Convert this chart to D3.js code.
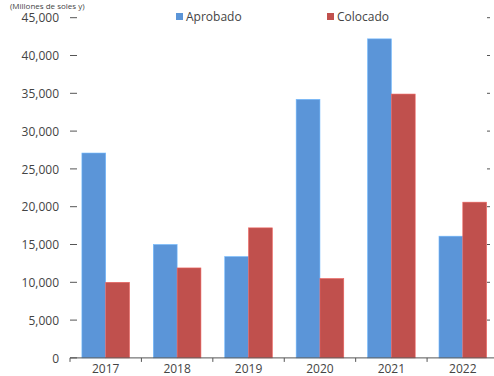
<!DOCTYPE html>
<html>
<head>
<meta charset="utf-8">
<script src="https://cdn.jsdelivr.net/npm/d3@7"></script>
<style>
  body { margin: 0; background: #fff; }
  svg text { font-family: "Open Sans", sans-serif; fill: #444; }
</style>
</head>
<body>
<svg id="chart"></svg>
<script>
// values
const years = ['2017', '2018', '2019', '2020', '2021', '2022'];
const aprobado = [27100, 15000, 13400, 34200, 42200, 16100];
const colocado = [10000, 11900, 17200, 10500, 34900, 20600];
const seriesNames = ['Aprobado', 'Colocado'];
const yTicks = [0, 5000, 10000, 15000, 20000, 25000, 30000, 35000, 40000, 45000];

const colors = {Aprobado: '#5b95d8', Colocado: '#c0504d'};

const width = 494, height = 376;
const margin = {top: 17.7, right: -4.5, bottom: 18.1, left: 70};

const svg = d3.select('#chart')
    .attr('width', width)
    .attr('height', height);

const data = years.map((y, i) => ({year: y, Aprobado: aprobado[i], Colocado: colocado[i]}));

const xScale = d3.scaleBand()
    .domain(years)
    .range([margin.left, width - margin.right]);

const xInner = d3.scaleBand()
    .domain(seriesNames)
    .range([0, xScale.bandwidth()])
    .paddingInner(0)
    .paddingOuter(0.5);

const yScale = d3.scaleLinear()
    .domain([0, 45000])
    .range([height - margin.bottom, margin.top]);

// unit label at the top edge
svg.append('text')
    .attr('x', 10)
    .attr('y', 8.5)
    .style('font-size', '8px')
    .text('(Millones de soles y)');

// y axis (labels only, no line)
const yAxis = d3.axisLeft(yScale)
    .tickValues(yTicks)
    .tickSize(0)
    .tickPadding(0)
    .tickFormat(d3.format(','));

const yAxisGroup = svg.append('g')
    .attr('transform', `translate(${margin.left - 11}, 0)`)
    .call(yAxis);
yAxisGroup.select('.domain').remove();
yAxisGroup.selectAll('text').style('font-size', '12px').attr('dy', '0.35em');

svg.append('g')
    .selectAll('line')
    .data(yTicks)
    .join('line')
    .attr('x1', margin.left)
    .attr('x2', margin.left + 7)
    .attr('y1', d => yScale(d))
    .attr('y2', d => yScale(d))
    .attr('stroke', '#555')
    .attr('stroke-width', 1);

// small ticks on the right side
svg.append('g')
    .selectAll('line')
    .data(yTicks.slice(1))
    .join('line')
    .attr('x1', 487)
    .attr('x2', 490)
    .attr('y1', d => yScale(d))
    .attr('y2', d => yScale(d))
    .attr('stroke', '#555')
    .attr('stroke-width', 1);

// bars
const groups = svg.append('g')
    .selectAll('g')
    .data(data)
    .join('g')
    .attr('transform', d => `translate(${xScale(d.year)}, 0)`);

groups.selectAll('rect')
    .data(d => seriesNames.map(k => ({key: k, value: d[k]})))
    .join('rect')
    .attr('x', d => xInner(d.key))
    .attr('y', d => yScale(d.value))
    .attr('width', xInner.bandwidth())
    .attr('height', d => yScale(0) - yScale(d.value))
    .attr('fill', d => colors[d.key])
    .attr('stroke', d => d3.color(colors[d.key]).brighter(0.6))
    .attr('stroke-width', 0.6);

// x axis
const xAxisGroup = svg.append('g')
    .attr('transform', `translate(0, ${yScale(0)})`);

xAxisGroup.append('line')
    .attr('x1', margin.left)
    .attr('x2', width)
    .attr('stroke', '#555');

xAxisGroup.selectAll('.tick')
    .data(years)
    .join('line')
    .attr('class', 'tick')
    .attr('x1', d => xScale(d))
    .attr('x2', d => xScale(d))
    .attr('y1', 0)
    .attr('y2', 4)
    .attr('stroke', '#555');

xAxisGroup.selectAll('text')
    .data(years)
    .join('text')
    .attr('x', d => xScale(d) + xScale.bandwidth() / 2)
    .attr('y', 15)
    .attr('text-anchor', 'middle')
    .style('font-size', '12px')
    .text(d => d);

// legend
const legendX = {Aprobado: 176, Colocado: 327};
const legend = svg.append('g')
    .selectAll('g')
    .data(seriesNames)
    .join('g')
    .attr('transform', d => `translate(${legendX[d]}, 13)`);

legend.append('rect')
    .attr('width', 7)
    .attr('height', 7)
    .attr('fill', d => colors[d]);

legend.append('text')
    .attr('x', 10)
    .attr('y', 8)
    .style('font-size', '12px')
    .text(d => d);
</script>
</body>
</html>
